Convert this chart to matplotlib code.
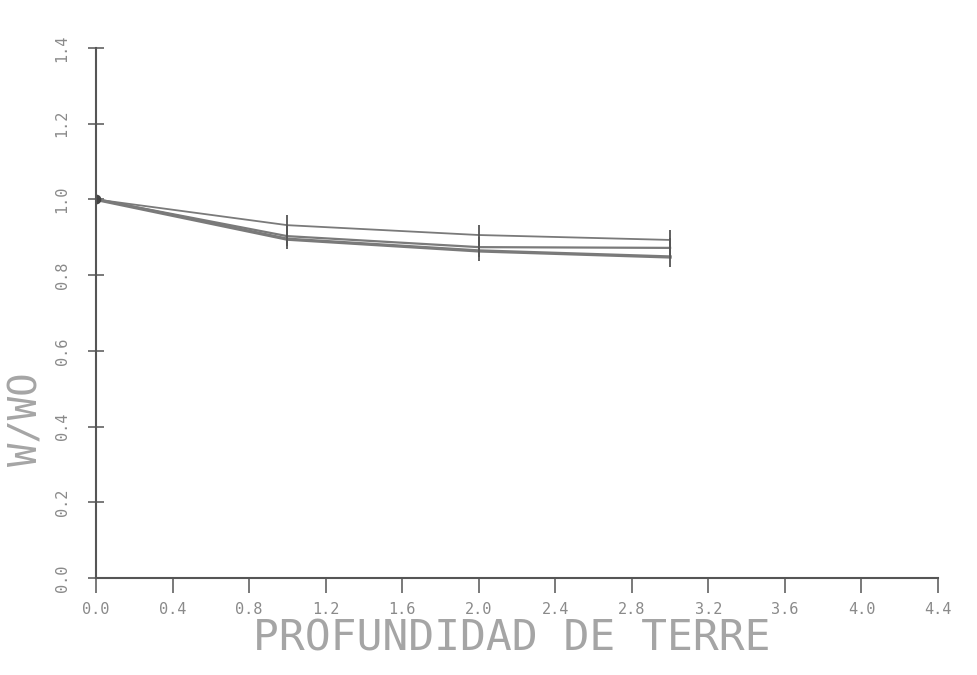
import matplotlib
matplotlib.use("Agg")
import matplotlib.pyplot as plt

# Soil depth (x) and relative values W/WO for each series
depth = [0.0, 1.0, 2.0, 3.0]
serie_a = [1.000, 0.932, 0.906, 0.893]
serie_b = [1.000, 0.903, 0.874, 0.872]
serie_c = [1.000, 0.895, 0.864, 0.848]

x_ticks = [0.0, 0.4, 0.8, 1.2, 1.6, 2.0, 2.4, 2.8, 3.2, 3.6, 4.0, 4.4]
x_tick_labels = ["0.0", "0.4", "0.8", "1.2", "1.6", "2.0", "2.4", "2.8", "3.2", "3.6", "4.0", "4.4"]
y_ticks = [0.0, 0.2, 0.4, 0.6, 0.8, 1.0, 1.2, 1.4]
y_tick_labels = ["0.0", "0.2", "0.4", "0.6", "0.8", "1.0", "1.2", "1.4"]

W, H, DPI = 977, 675, 100
fig = plt.figure(figsize=(W / DPI, H / DPI), dpi=DPI)
ax = fig.add_axes([96 / W, 1 - 578 / H, (938 - 96) / W, (578 - 48) / H])

mono = "DejaVu Sans Mono"
line_col = "#7a7a7a"

for vals, lw in [(serie_a, 1.3), (serie_b, 1.6), (serie_c, 2.4)]:
    ax.plot(depth, vals, color=line_col, lw=lw, marker="|", ms=14, mew=1.3, mec="#555555")
ax.plot(depth[:1], serie_a[:1], "o", color="#444444", ms=6)

ax.set_xlim(0.0, 4.4)
ax.set_ylim(0.0, 1.4)

for side in ("top", "right"):
    ax.spines[side].set_visible(False)
for side in ("left", "bottom"):
    ax.spines[side].set_color("#555555")
    ax.spines[side].set_linewidth(1.5)

ax.set_xticks(x_ticks)
ax.set_xticklabels(x_tick_labels, family=mono, fontsize=11, color="#8a8a8a")
ax.set_yticks(y_ticks)
ax.set_yticklabels(y_tick_labels, family=mono, fontsize=11, color="#8a8a8a",
                   rotation=90, va="center")
ax.tick_params(axis="x", direction="out", length=11, width=1.1, color="#555555", pad=6)
ax.tick_params(axis="y", direction="inout", length=12, width=1.1, color="#555555", pad=13)

ax.set_xlabel("PROFUNDIDAD DE TERRE", family=mono, fontsize=31, color="#a5a5a5")
ax.xaxis.set_label_coords(0.494, -0.075)
ax.set_ylabel("W/WO", family=mono, fontsize=28, color="#a5a5a5")
ax.yaxis.set_label_coords(-0.060, 0.30)

fig.savefig("out.png", dpi=DPI, facecolor="white")
